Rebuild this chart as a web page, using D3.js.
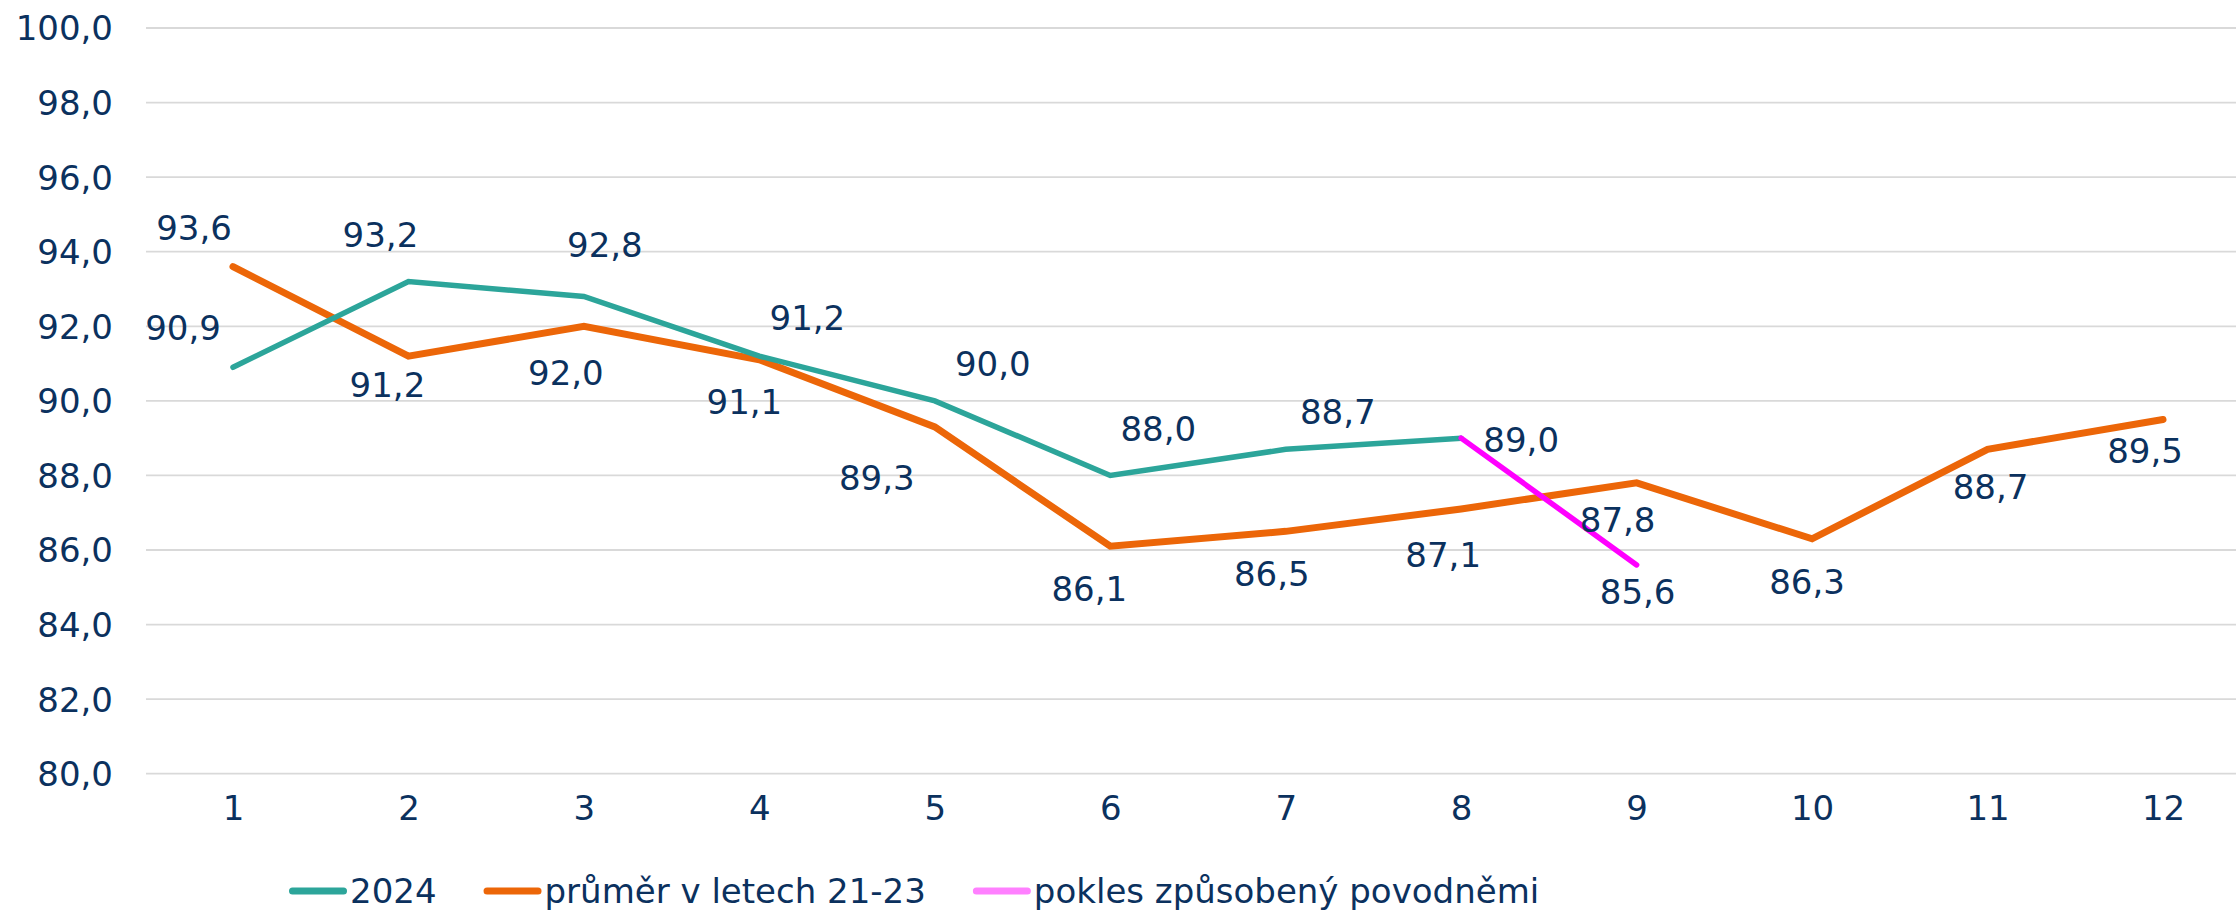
<!DOCTYPE html>
<html><head><meta charset="utf-8">
<script src="https://cdn.jsdelivr.net/npm/d3@7"></script>
<style>html,body{margin:0;padding:0;background:#fff;}svg{display:block;}</style>
</head><body>
<svg id="chart" width="2236" height="911"></svg>
<script>
const months = [1,2,3,4,5,6,7,8,9,10,11,12];
const yTicks = [80,82,84,86,88,90,92,94,96,98,100];
const series2024 = [90.9,93.2,92.8,91.2,90.0,88.0,88.7,89.0];
const seriesAvg = [93.6,91.2,92.0,91.1,89.3,86.1,86.5,87.1,87.8,86.3,88.7,89.5];
const floodMonths = [8,9];
const floodValues = [89.0,85.6];
const legendLabels = ["2024","průměr v letech 21-23","pokles způsobený povodněmi"];

// label offsets (px) relative to points
const off2024 = [[-50,-39],[-28,-46],[21,-51],[48,-38],[58,-37],[48,-46],[52,-37],[60,2]];
const offAvg = [[-39,-39],[-21,29],[-18,47],[-15,42],[-58,51],[-21,43],[-14,43],[-18,46],[-19,37],[-5,43],[3,38],[-18,32]];
const offFlood = [null,[1,27]];

const C_TEAL="#2ca59a", C_ORANGE="#ec6608", C_PINK="#ff00ff", C_PINK_LEG="#ff80ff", C_TEXT="#0b315e";
const FONT="'DejaVu Sans', Verdana, sans-serif", FS=34;

const svg = d3.select("#chart");
const x = d3.scalePoint().domain(months).range([233,2163]);
const y = d3.scaleLinear().domain([80,100]).range([773.7,28]);

// grid
svg.append("g").selectAll("line").data(yTicks).join("line")
  .attr("x1",146).attr("x2",2236)
  .attr("y1",d=>y(d)).attr("y2",d=>y(d))
  .attr("stroke","#d9d9d9").attr("stroke-width",1.8);

// y axis labels
const yAxis = svg.append("g").attr("transform","translate(113,0)")
  .call(d3.axisLeft(y).tickValues(yTicks).tickSize(0).tickPadding(0).tickFormat(d=>d3.format(".1f")(d).replace(".",",")));
yAxis.select(".domain").remove();
yAxis.selectAll("text").attr("font-family",FONT).attr("font-size",FS).attr("fill",C_TEXT).attr("dy","0.35em");

// x axis labels
const xAxis = svg.append("g").attr("transform","translate(0,808)")
  .call(d3.axisBottom(x).tickSize(0).tickPadding(0));
xAxis.select(".domain").remove();
xAxis.selectAll("text").attr("font-family",FONT).attr("font-size",FS).attr("fill",C_TEXT).attr("dy","0.35em");

const line = d3.line().x(d=>x(d[0])).y(d=>y(d[1]));
const d2024 = series2024.map((v,i)=>[months[i],v]);
const dAvg = seriesAvg.map((v,i)=>[months[i],v]);
const dFlood = floodValues.map((v,i)=>[floodMonths[i],v]);

svg.append("path").attr("d",line(dAvg)).attr("fill","none").attr("stroke",C_ORANGE)
  .attr("stroke-width",7).attr("stroke-linejoin","miter").attr("stroke-linecap","round");
svg.append("path").attr("d",line(d2024)).attr("fill","none").attr("stroke",C_TEAL)
  .attr("stroke-width",5.5).attr("stroke-linejoin","miter").attr("stroke-linecap","round");
svg.append("path").attr("d",line(dFlood)).attr("fill","none").attr("stroke",C_PINK)
  .attr("stroke-width",5.5).attr("stroke-linejoin","miter").attr("stroke-linecap","round");

const fmt = v=>d3.format(".1f")(v).replace(".",",");
function labels(data, offs){
  svg.append("g").selectAll("text").data(data.map((d,i)=>({d,o:offs[i]})).filter(e=>e.o)).join("text")
    .attr("x",e=>x(e.d[0])+e.o[0]).attr("y",e=>y(e.d[1])+e.o[1])
    .attr("text-anchor","middle").attr("dy","0.35em")
    .attr("font-family",FONT).attr("font-size",FS).attr("fill",C_TEXT)
    .text(e=>fmt(e.d[1]));
}
labels(d2024, off2024);
labels(dAvg, offAvg);
labels(dFlood, offFlood);

// legend
const legColors=[C_TEAL,C_ORANGE,C_PINK_LEG];
let lx = 292.5;
const ly = 891;
const leg = svg.append("g");
legendLabels.forEach((t,i)=>{
  leg.append("line").attr("x1",lx).attr("x2",lx+51).attr("y1",ly).attr("y2",ly)
    .attr("stroke",legColors[i]).attr("stroke-width",7).attr("stroke-linecap","round");
  const tx = leg.append("text").attr("x",lx+57.5).attr("y",ly).attr("dy","0.35em")
    .attr("font-family",FONT).attr("font-size",FS).attr("fill",C_TEXT).text(t);
  lx = lx+57.5+tx.node().getComputedTextLength()+50.5;
});
</script>
</body></html>
